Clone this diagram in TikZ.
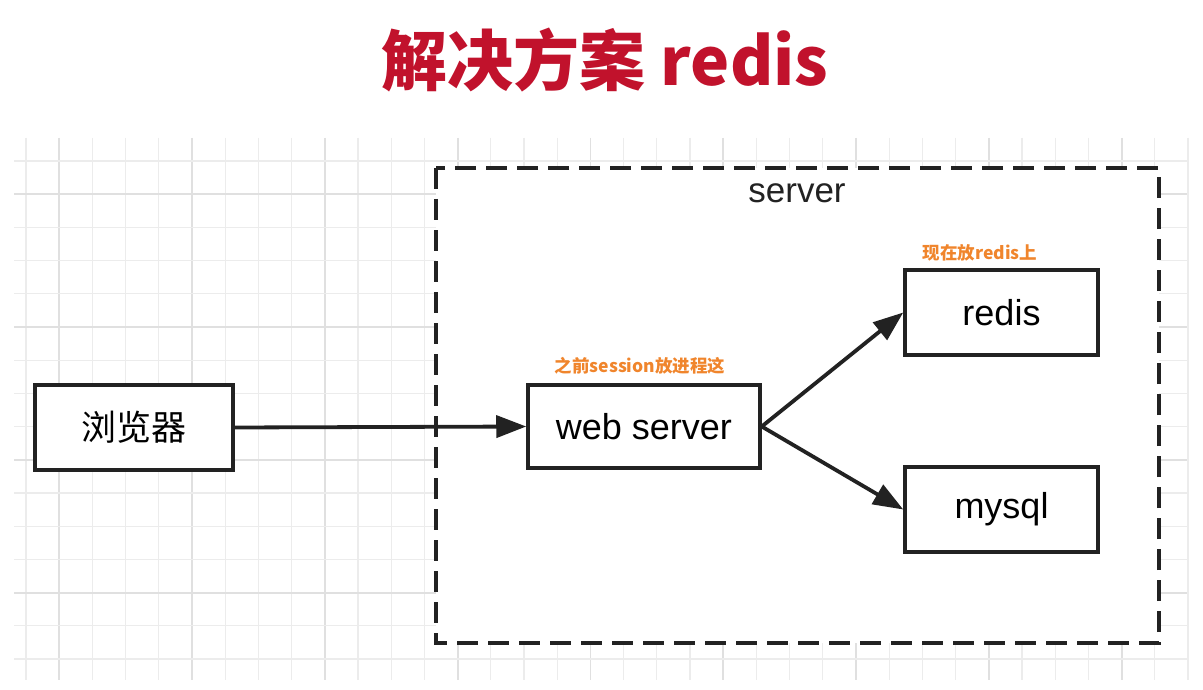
\documentclass[tikz,border=0pt]{standalone}
\usepackage{fontspec}
\setmainfont{Liberation Sans}
\newfontfamily\cjk{Noto Sans CJK SC}
\usetikzlibrary{arrows.meta}
\definecolor{titlered}{RGB}{193,18,44}
\definecolor{lblorange}{RGB}{240,133,44}
\definecolor{ink}{RGB}{34,34,34}
\definecolor{gridminor}{RGB}{236,236,236}
\definecolor{gridmajor}{RGB}{224,224,224}
\tikzset{
  x=1pt,y=-1pt,
  minorline/.style={draw=gridminor,line width=1.2pt},
  majorline/.style={draw=gridmajor,line width=1.8pt},
  boxnode/.style={draw=ink,fill=white,line width=3.5pt,rectangle,inner sep=0pt,
    font=\fontsize{36}{42}\selectfont},
  conn/.style={draw=ink,line width=3.8pt,-{Triangle[length=30pt,width=22pt]}},
  orangelbl/.style={text=lblorange,font=\cjk\bfseries\fontsize{17.5}{20}\selectfont,inner sep=0pt},
}
\begin{document}
\begin{tikzpicture}
\useasboundingbox (0,0) rectangle (1203,690);
\fill[white] (0,0) rectangle (1203,690);
% grid
\foreach \k in {0,...,35}{
  \pgfmathtruncatemacro\m{mod(\k,4)}
  \ifnum\m=1
    \draw[majorline] ({26+33.2*\k},138) -- ({26+33.2*\k},680);
  \else
    \draw[minorline] ({26+33.2*\k},138) -- ({26+33.2*\k},680);
  \fi
}
\foreach \k in {0,...,15}{
  \pgfmathtruncatemacro\m{mod(\k,4)}
  \ifnum\m=1
    \draw[majorline] (14,{161+33.2*\k}) -- (1187,{161+33.2*\k});
  \else
    \draw[minorline] (14,{161+33.2*\k}) -- (1187,{161+33.2*\k});
  \fi
}
% title
\node[text=titlered,font=\cjk\bfseries\fontsize{66}{74}\selectfont,inner sep=0pt] (title) at (605,60) {解决方案 redis};
% server container
\path[fill=white] (436,168) rectangle (1159,643);
\draw[ink,line width=4pt,dash pattern=on 21pt off 10pt] (436,168) rectangle (1159,643);
\node[font=\fontsize{35}{40}\selectfont,text=ink,inner sep=0pt] (serverlbl) at (797,193) {server};
% boxes
\node[boxnode,minimum width=198pt,minimum height=85pt,font=\cjk\fontsize{35}{40}\selectfont] (browser) at (134,427.5) {浏览器};
\node[boxnode,minimum width=232pt,minimum height=83pt] (web) at (644,426.5) {web server};
\node[boxnode,minimum width=193pt,minimum height=85pt] (redis) at (1001.5,312.5) {redis};
\node[boxnode,minimum width=193pt,minimum height=85pt] (mysql) at (1001.5,509.5) {mysql};
% labels
\node[orangelbl] (lbl1) at (640,366) {之前session放进程这};
\node[orangelbl] (lbl2) at (980,253) {现在放redis上};
% connectors
\draw[conn] (browser.east) -- (web.west);
\draw[conn] (web.east) -- (redis.west);
\draw[conn] (web.east) -- (mysql.west);
\end{tikzpicture}
\end{document}
